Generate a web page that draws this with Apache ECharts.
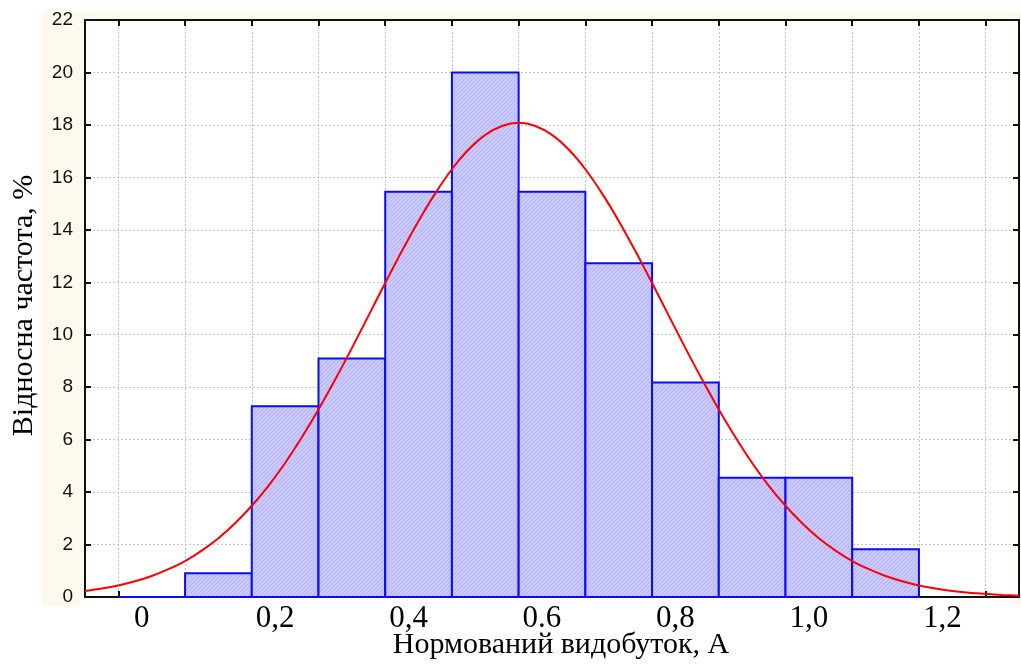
<!DOCTYPE html>
<html>
<head>
<meta charset="utf-8">
<script src="https://cdn.jsdelivr.net/npm/echarts@6/dist/echarts.min.js"></script>
<style>
  html, body { margin: 0; padding: 0; background: #fff; }
  #chart { width: 1021px; height: 667px; }
</style>
</head>
<body>
<div id="chart"></div>
<script>
// histogram bins (left edge of each bin, width 0.1) and relative frequency, %
var binStart = [-0.035, 0.065, 0.165, 0.265, 0.365, 0.465, 0.565, 0.665, 0.765, 0.865, 0.965, 1.065];
var binWidth = 0.1;
var freq = [0, 0.91, 7.27, 9.09, 15.45, 20.0, 15.45, 12.73, 8.18, 4.55, 4.55, 1.82];

// fitted normal curve
var curveX = [-0.085, -0.06, -0.035, -0.01, 0.015, 0.04, 0.065, 0.09, 0.115, 0.14,
              0.165, 0.19, 0.215, 0.24, 0.265, 0.29, 0.315, 0.34, 0.365, 0.39,
              0.415, 0.44, 0.465, 0.49, 0.515, 0.54, 0.565, 0.59, 0.615, 0.64,
              0.665, 0.69, 0.715, 0.74, 0.765, 0.79, 0.815, 0.84, 0.865, 0.89,
              0.915, 0.94, 0.965, 0.99, 1.015, 1.04, 1.065, 1.09, 1.115, 1.14,
              1.165, 1.19, 1.215, 1.24, 1.265, 1.29, 1.315];
var curveY = [0.23, 0.32, 0.44, 0.60, 0.80, 1.06, 1.37, 1.77, 2.24, 2.81,
              3.48, 4.24, 5.11, 6.09, 7.15, 8.29, 9.49, 10.73, 11.97, 13.19,
              14.34, 15.39, 16.31, 17.06, 17.62, 17.96, 18.08, 17.96, 17.62, 17.06,
              16.31, 15.39, 14.34, 13.19, 11.97, 10.73, 9.49, 8.29, 7.15, 6.09,
              5.11, 4.24, 3.48, 2.81, 2.24, 1.77, 1.37, 1.06, 0.80, 0.60,
              0.44, 0.32, 0.23, 0.16, 0.12, 0.08, 0.05];

// axis ticks / labels
var gridTicks = [-0.035, 0.065, 0.165, 0.265, 0.365, 0.465, 0.565, 0.665, 0.765, 0.865, 0.965, 1.065, 1.165, 1.265];
var xLabelValues = [0, 0.2, 0.4, 0.6, 0.8, 1.0, 1.2];
var xLabelText = ['0', '0,2', '0,4', '0.6', '0,8', '1,0', '1,2'];

var barData = binStart.map(function (s, i) { return [s, s + binWidth, freq[i]]; });
var curveData = curveX.map(function (x, i) { return [x, curveY[i]]; });

// diagonal hatch fill for the bars
var tile = document.createElement('canvas');
tile.width = 4; tile.height = 4;
var ctx = tile.getContext('2d');
ctx.fillStyle = '#c9c9fd';
ctx.fillRect(0, 0, 4, 4);
ctx.fillStyle = '#b1b1f3';
for (var k = 0; k < 4; k++) { ctx.fillRect(k, 3 - k, 1, 1); }
var hatch = { image: tile, repeat: 'repeat' };

var myChart = echarts.init(document.getElementById('chart'));

var frameLine = { show: true, onZero: false, lineStyle: { color: '#111', width: 2 } };
var innerTick = { show: true, inside: true, length: 6, lineStyle: { color: '#111', width: 2 } };
var dotted = { show: true, lineStyle: { color: '#c4c4c4', width: 1, type: [2, 2] } };

myChart.setOption({
    backgroundColor: '#fff',
    animation: false,
    graphic: [
        { type: 'rect', z: -10, shape: { x: 42, y: 12, width: 979, height: 594 }, style: { fill: '#fef9ef' } },
        { type: 'rect', z: -9, shape: { x: 81, y: 598, width: 934, height: 9 }, style: { fill: '#fff' } }
    ],
    grid: {
        left: 85, right: 2, top: 20, bottom: 70,
        containLabel: false,
        outerBoundsMode: 'none',
        show: true, backgroundColor: '#fff', borderWidth: 0
    },
    xAxis: [{
        type: 'value', position: 'bottom',
        min: -0.085, max: 1.315,
        axisLine: frameLine,
        axisTick: Object.assign({ customValues: gridTicks }, innerTick),
        splitLine: dotted,
        axisLabel: {
            customValues: xLabelValues,
            margin: 6,
            color: '#000',
            fontFamily: '"Liberation Serif", "Times New Roman", serif',
            fontSize: 31,
            formatter: function (v) {
                var i = xLabelValues.findIndex(function (t) { return Math.abs(t - v) < 1e-6; });
                return i >= 0 ? xLabelText[i] : '';
            }
        },
        name: 'Нормований видобуток, А',
        nameLocation: 'middle',
        nameGap: 33,
        nameMoveOverlap: false,
        nameTextStyle: {
            color: '#000',
            fontFamily: '"Liberation Serif", "Times New Roman", serif',
            fontSize: 30,
            padding: [0, 0, 0, 18]
        }
    }, {
        type: 'value', position: 'top',
        min: -0.085, max: 1.315,
        axisLine: frameLine,
        axisTick: Object.assign({ customValues: gridTicks }, innerTick),
        splitLine: { show: false },
        axisLabel: { show: false }
    }],
    yAxis: [{
        type: 'value', position: 'left',
        min: 0, max: 22, interval: 2,
        axisLine: frameLine,
        axisTick: innerTick,
        splitLine: dotted,
        axisLabel: {
            margin: 12,
            color: '#111',
            fontFamily: '"Liberation Sans", Arial, sans-serif',
            fontSize: 19
        },
        name: 'Відносна частота, %',
        nameLocation: 'middle',
        nameGap: 46,
        nameMoveOverlap: false,
        nameTextStyle: {
            color: '#000',
            fontFamily: '"Liberation Serif", "Times New Roman", serif',
            fontSize: 30,
            padding: [0, 0, 0, 6]
        }
    }, {
        type: 'value', position: 'right',
        min: 0, max: 22, interval: 2,
        axisLine: frameLine,
        axisTick: innerTick,
        splitLine: { show: false },
        axisLabel: { show: false }
    }],
    series: [{
        name: 'bars',
        type: 'custom',
        xAxisIndex: 0, yAxisIndex: 0,
        data: barData,
        encode: { x: [0, 1], y: 2 },
        renderItem: function (params, api) {
            var p0 = api.coord([api.value(0), api.value(2)]);
            var p1 = api.coord([api.value(1), 0]);
            return {
                type: 'rect',
                shape: { x: p0[0], y: p0[1], width: p1[0] - p0[0], height: p1[1] - p0[1] },
                style: { fill: hatch, stroke: '#0a0aff', lineWidth: 2 }
            };
        }
    }, {
        name: 'curve',
        type: 'line',
        xAxisIndex: 0, yAxisIndex: 0,
        data: curveData,
        smooth: 0.3,
        showSymbol: false,
        clip: false,
        z: 5,
        lineStyle: { color: '#ff0000', width: 2 }
    }]
});
</script>
</body>
</html>
